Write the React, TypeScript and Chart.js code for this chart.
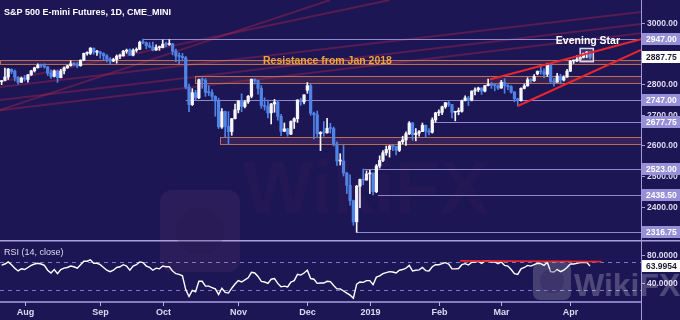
import React, { useEffect, useRef } from 'react';
import { Chart, registerables } from 'chart.js';

Chart.register(...registerables);

const BG = '#1d1654';
const UP = '#f6f6fc';
const DOWN = '#5083e6';
const LAVENDER = '#8f87cf';
const TAG_BG = '#978fd8';
const AXIS_TEXT = '#dedaf2';
const FONT = '"Liberation Sans", Arial, sans-serif';

// ---------- sessions (trading days) ----------
const sessionMonths = ['2018-07', '2018-08', '2018-09', '2018-10', '2018-11', '2018-12', '2019-01', '2019-02', '2019-03', '2019-04'];
const sessionDays = [
  [23, 24, 25, 26, 27, 30, 31],
  [1, 2, 3, 6, 7, 8, 9, 10, 13, 14, 15, 16, 17, 20, 21, 22, 23, 24, 27, 28, 29, 30, 31],
  [4, 5, 6, 7, 10, 11, 12, 13, 14, 17, 18, 19, 20, 21, 24, 25, 26, 27, 28],
  [1, 2, 3, 4, 5, 8, 9, 10, 11, 12, 15, 16, 17, 18, 19, 22, 23, 24, 25, 26, 29, 30, 31],
  [1, 2, 5, 6, 7, 8, 9, 12, 13, 14, 15, 16, 19, 20, 21, 23, 26, 27, 28, 29, 30],
  [3, 4, 6, 7, 10, 11, 12, 13, 14, 17, 18, 19, 20, 21, 24, 26, 27, 28, 31],
  [2, 3, 4, 7, 8, 9, 10, 11, 14, 15, 16, 17, 18, 22, 23, 24, 25, 28, 29, 30, 31],
  [1, 4, 5, 6, 7, 8, 11, 12, 13, 14, 15, 19, 20, 21, 22, 25, 26, 27, 28],
  [1, 4, 5, 6, 7, 8, 11, 12, 13, 14, 15, 18, 19, 20, 21, 22, 25, 26, 27, 28, 29],
  [1, 2, 3, 4, 5, 8, 9],
];
const monthTickText = ['', 'Aug', 'Sep', 'Oct', 'Nov', 'Dec', '2019', 'Feb', 'Mar', 'Apr'];
const futureSlots = 15;

// ---------- OHLC ----------
const opens = [
  2808, 2812, 2823, 2848, 2842, 2822, 2806,
  2820, 2815, 2830, 2843, 2853, 2861, 2860, 2856, 2836, 2825, 2843, 2821, 2843, 2853, 2860, 2866, 2865, 2860, 2878, 2900, 2900, 2917, 2904,
  2905, 2900, 2892, 2881, 2875, 2880, 2891, 2892, 2907, 2912, 2894, 2910, 2913, 2936, 2935, 2925, 2921, 2911, 2919,
  2919, 2930, 2929, 2931, 2907, 2891, 2890, 2886, 2790, 2733, 2772, 2755, 2814, 2813, 2773, 2772, 2760, 2745, 2660, 2710, 2662, 2645, 2687,
  2716, 2745, 2727, 2742, 2760, 2815, 2811, 2786, 2730, 2727, 2706, 2735, 2741, 2695, 2646, 2654, 2637, 2678, 2687, 2748, 2742,
  2780, 2795, 2705, 2700, 2638, 2642, 2641, 2656, 2655, 2605, 2549, 2549, 2510, 2470, 2420, 2351, 2467, 2489, 2487,
  2507, 2510, 2449, 2533, 2551, 2576, 2587, 2598, 2597, 2584, 2612, 2618, 2638, 2673, 2635, 2640, 2645, 2666, 2646, 2643, 2683,
  2706, 2708, 2726, 2739, 2733, 2708, 2710, 2711, 2746, 2755, 2748, 2777, 2781, 2787, 2777, 2795, 2799, 2796, 2795,
  2787, 2806, 2795, 2792, 2774, 2752, 2746, 2786, 2794, 2814, 2811, 2833, 2841, 2840, 2832, 2862, 2808, 2806, 2826, 2813, 2823,
  2842, 2875, 2875, 2881, 2887, 2900, 2904,
];
const highs = [
  2812, 2852, 2851, 2850, 2846, 2824, 2823,
  2828, 2832, 2845, 2855, 2866, 2865, 2866, 2858, 2846, 2846, 2844, 2848, 2856, 2862, 2876, 2870, 2871, 2879, 2901, 2905, 2919, 2918, 2910,
  2907, 2902, 2896, 2886, 2884, 2895, 2898, 2910, 2914, 2915, 2915, 2918, 2940, 2947, 2937, 2935, 2937, 2928, 2924,
  2944, 2937, 2945, 2933, 2914, 2902, 2900, 2890, 2800, 2785, 2780, 2816, 2820, 2818, 2795, 2782, 2762, 2754, 2720, 2712, 2710, 2688, 2735,
  2746, 2768, 2746, 2763, 2817, 2818, 2813, 2795, 2755, 2748, 2737, 2750, 2747, 2701, 2673, 2656, 2680, 2690, 2749, 2754, 2765,
  2805, 2800, 2709, 2712, 2645, 2678, 2688, 2672, 2660, 2612, 2573, 2600, 2512, 2504, 2422, 2470, 2490, 2523, 2517,
  2519, 2510, 2538, 2566, 2583, 2598, 2600, 2601, 2598, 2613, 2630, 2644, 2677.75, 2675, 2655, 2648, 2673, 2666, 2655, 2690, 2708,
  2716, 2728, 2740, 2744, 2734, 2711, 2722, 2748, 2762, 2760, 2778, 2788, 2790, 2788, 2796, 2816, 2806, 2800, 2798,
  2812, 2818, 2798, 2795, 2776, 2754, 2788, 2800, 2821, 2818, 2831, 2843, 2860, 2850, 2868, 2865, 2819, 2835, 2832, 2827, 2848,
  2877, 2879, 2893, 2890, 2901, 2906, 2906,
];
const lows = [
  2798, 2810, 2815, 2834, 2810, 2800, 2805,
  2810, 2806, 2828, 2839, 2852, 2854, 2852, 2828, 2818, 2823, 2805, 2820, 2833, 2851, 2858, 2860, 2853, 2858, 2876, 2894, 2896, 2897, 2893,
  2884, 2878, 2872, 2864, 2873, 2868, 2883, 2891, 2900, 2893, 2892, 2904, 2912, 2932, 2915, 2918, 2908, 2910, 2910,
  2918, 2922, 2926, 2895, 2873, 2866, 2876, 2784, 2710, 2730, 2748, 2752, 2786, 2760, 2762, 2747, 2695, 2655, 2655, 2628, 2603, 2633, 2686,
  2706, 2710, 2722, 2737, 2755, 2800, 2767, 2721, 2715, 2690, 2670, 2708, 2682, 2632, 2645, 2630, 2635, 2655, 2675, 2731, 2735,
  2770, 2698, 2621, 2626, 2583, 2630, 2640, 2640, 2598, 2535, 2536, 2500, 2443, 2405, 2340, 2316.75, 2397, 2472, 2487,
  2443, 2438.5, 2446, 2526, 2547, 2568, 2562, 2583, 2569, 2580, 2605, 2600, 2635, 2617, 2615, 2630, 2645, 2627, 2634, 2640, 2676,
  2697, 2700, 2721, 2727, 2690, 2680, 2700, 2708, 2745, 2730, 2745, 2765, 2775, 2766, 2774, 2794, 2786, 2778, 2782,
  2786, 2770, 2782, 2770, 2742, 2728.5, 2744, 2784, 2793, 2805, 2809, 2830, 2832, 2820, 2825, 2801, 2793, 2806, 2800, 2810, 2822,
  2841, 2867, 2873, 2876, 2885, 2886, 2882,
];
const closes = [
  2810, 2823, 2849, 2840, 2822, 2806, 2819,
  2816, 2830, 2843, 2853, 2861, 2860, 2856, 2836, 2825, 2843, 2821, 2843, 2853, 2860, 2866, 2865, 2860, 2878, 2900, 2900, 2917, 2904, 2905,
  2900, 2892, 2881, 2875, 2880, 2891, 2892, 2907, 2908, 2894, 2910, 2913, 2936, 2935, 2925, 2921, 2911, 2919, 2919,
  2930, 2929, 2931, 2907, 2891, 2890, 2886, 2790, 2733, 2772, 2755, 2814, 2813, 2773, 2772, 2760, 2745, 2660, 2710, 2662, 2645, 2687, 2716,
  2745, 2727, 2742, 2760, 2815, 2811, 2786, 2730, 2727, 2706, 2735, 2741, 2695, 2646, 2654, 2637, 2678, 2687, 2748, 2742, 2765,
  2795, 2705, 2700, 2638, 2642, 2641, 2656, 2655, 2605, 2549, 2549, 2510, 2470, 2420, 2351, 2467, 2489, 2487, 2507,
  2510, 2449, 2533, 2551, 2576, 2587, 2598, 2597, 2584, 2612, 2618, 2638, 2673, 2635, 2640, 2645, 2666, 2646, 2643, 2683, 2706,
  2708, 2726, 2739, 2733, 2708, 2710, 2711, 2746, 2755, 2748, 2777, 2781, 2787, 2777, 2795, 2799, 2796, 2795, 2787,
  2806, 2795, 2792, 2774, 2752, 2746, 2786, 2794, 2814, 2811, 2825, 2841, 2840, 2832, 2862, 2808, 2806, 2826, 2813, 2823, 2842,
  2875, 2875, 2881, 2887, 2900, 2904, 2887.75,
];
const rsiValues = [
  65.5, 67, 70, 66, 61, 57, 60,
  59, 62, 65, 67, 68, 67, 65, 58, 54, 59, 53, 59, 61, 62, 64, 63, 61, 66, 71, 71, 73, 68, 68,
  66, 62, 58, 56, 58, 62, 63, 66, 64, 58, 64, 66, 70, 69, 64, 62, 58, 61, 60,
  64, 63, 63, 57, 53, 52, 50, 30, 20, 29, 27, 42, 42, 35, 35, 33, 31, 23, 32, 26, 25, 32, 38,
  43, 41, 44, 47, 55, 54, 49, 42, 41, 39, 45, 46, 39, 34, 35, 34, 41, 43, 52, 51, 54,
  58, 46, 45, 39, 39.5, 39.5, 42, 41.5, 36, 31, 31, 28, 25, 22, 17.5, 38, 41, 40.5, 43,
  43, 37, 48, 50, 53, 54.5, 56, 55.5, 54, 58, 59, 61, 65, 57, 58, 58.5, 62, 57.5, 57, 63, 66,
  66, 67.5, 69, 67, 60, 60, 60.5, 66, 67.5, 65.5, 69.5, 70, 71, 68, 71, 71.5, 70, 70, 67.5,
  70, 65, 64, 59, 53, 52, 60, 62, 65, 64, 66, 68, 67.5, 65, 69.5, 56, 55.5, 59, 56, 58, 62,
  67, 67, 68, 69, 69, 69.5, 64,
];

// ---------- axes / annotations ----------
const priceMin = 2291.7;
const priceMax = 3074;
const rsiMin = 12.1;
const rsiMax = 101.7;
const priceAxisTicks = [3000, 2800, 2700, 2600, 2500, 2400];
const rsiAxisTicks = [80, 40];
const rsiBands = [70, 30];
const levelPrices = [2947, 2747, 2677.75, 2523, 2438.5, 2316.75];
const levelStarts = [43, 56, 131, 110, 114.5, 108];
const lastPrice = 2887.75;
const lastRsi = 63.9954;
const zoneStarts = [-0.5, 58.8, 66.4];
const zoneLows = [2865, 2805, 2605];
const zoneHighs = [2879, 2825, 2627];
const wedgeUpper = [148.5, 2815, 194.5, 2946];
const wedgeLower = [157, 2728.5, 194.5, 2911];
const channelLines = [
  [-0.5, 2715, 194.5, 2966],
  [-0.5, 2748, 194.5, 2996],
  [-0.5, 2790, 194.5, 3035],
  [-0.5, 2807, 118.1, 3074],
  [-0.5, 2715, 99.9, 3074],
];
const rsiResistance = [139.5, 71.5, 182.5, 70.5];
const eveningStarBox = [176, 180, 2873, 2916];

// ---------- categories ----------
const categories: string[] = [];
const monthStartIdx: number[] = [];
const monthStartText: string[] = [];
sessionMonths.forEach((m, k) => {
  sessionDays[k].forEach((d, j) => {
    if (j === 0 && monthTickText[k]) {
      monthStartIdx.push(categories.length);
      monthStartText.push(monthTickText[k]);
    }
    categories.push(`${m}-${String(d).padStart(2, '0')}`);
  });
});
for (let i = 1; i <= futureSlots; i++) categories.push(`+${i}`);

// ---------- helpers ----------
function seg(ctx: any, xs: any, ys: any, l: number[]) {
  ctx.beginPath();
  ctx.moveTo(xs.getPixelForValue(l[0]), ys.getPixelForValue(l[1]));
  ctx.lineTo(xs.getPixelForValue(l[2]), ys.getPixelForValue(l[3]));
  ctx.stroke();
}

function tag(ctx: any, axisX: number, py: number, text: string, bg: string, fg: string, w: number) {
  ctx.fillStyle = bg;
  ctx.fillRect(axisX + 1, Math.round(py) - 6, w - axisX - 1, 12);
  ctx.fillStyle = fg;
  ctx.font = `bold 8.5px ${FONT}`;
  ctx.textAlign = 'left';
  ctx.textBaseline = 'middle';
  ctx.fillText(text, axisX + 5, Math.round(py) + 0.5);
}

function rrect(ctx: any, x: number, y: number, w: number, h: number, r: number) {
  ctx.beginPath();
  ctx.moveTo(x + r, y);
  ctx.arcTo(x + w, y, x + w, y + h, r);
  ctx.arcTo(x + w, y + h, x, y + h, r);
  ctx.arcTo(x, y + h, x, y, r);
  ctx.arcTo(x, y, x + w, y, r);
  ctx.closePath();
}

function drawWatermarks(ctx: any, offY: number) {
  ctx.save();
  ctx.translate(0, -offY);
  // large faint mark
  rrect(ctx, 160, 190, 80, 82, 12);
  ctx.fillStyle = 'rgba(200,120,160,0.08)';
  ctx.fill();
  ctx.beginPath();
  ctx.arc(200, 231, 24, 0, Math.PI * 2);
  ctx.fillStyle = 'rgba(40,20,70,0.18)';
  ctx.fill();
  ctx.font = `bold 74px ${FONT}`;
  ctx.fillStyle = 'rgba(190,70,110,0.045)';
  ctx.textAlign = 'left';
  ctx.textBaseline = 'alphabetic';
  ctx.fillText('WikiFX', 243, 213);
  // small mark bottom-right
  rrect(ctx, 533, 262, 38, 38, 7);
  ctx.fillStyle = 'rgba(255,255,255,0.18)';
  ctx.fill();
  ctx.beginPath();
  ctx.arc(552, 281, 12, 0, Math.PI * 2);
  ctx.fillStyle = 'rgba(40,25,90,0.3)';
  ctx.fill();
  ctx.font = `bold 32px ${FONT}`;
  ctx.fillStyle = 'rgba(255,255,255,0.22)';
  ctx.fillText('WikiFX', 574, 296);
  ctx.restore();
}

const bgPlugin = {
  id: 'bg',
  beforeDraw(chart: any) {
    const { ctx } = chart;
    ctx.save();
    ctx.fillStyle = BG;
    ctx.fillRect(0, 0, chart.width, chart.height);
    ctx.restore();
  },
};

const mainOverlay = {
  id: 'mainOverlay',
  beforeDatasetsDraw(chart: any) {
    const { ctx, chartArea: a } = chart;
    const xs = chart.scales.x;
    const ys = chart.scales.y;
    ctx.save();
    ctx.beginPath();
    ctx.rect(a.left, a.top, a.right - a.left, a.bottom - a.top);
    ctx.clip();
    // faint channel lines
    ctx.strokeStyle = 'rgba(200,40,80,0.34)';
    ctx.lineWidth = 2;
    channelLines.forEach((l) => seg(ctx, xs, ys, l));
    // zones
    zoneLows.forEach((lo, k) => {
      const x0 = Math.round(xs.getPixelForValue(zoneStarts[k]));
      const y1 = Math.round(ys.getPixelForValue(zoneHighs[k]));
      const y2 = Math.round(ys.getPixelForValue(lo));
      ctx.fillStyle = 'rgba(160,80,100,0.2)';
      ctx.fillRect(x0, y1, a.right - x0, y2 - y1);
      ctx.strokeStyle = 'rgba(205,125,90,0.85)';
      ctx.lineWidth = 1;
      ctx.strokeRect(x0 + 0.5, y1 + 0.5, a.right - x0 + 2, y2 - y1);
    });
    // horizontal rays
    ctx.strokeStyle = LAVENDER;
    ctx.lineWidth = 1;
    levelPrices.forEach((p, k) => {
      const py = Math.round(ys.getPixelForValue(p)) + 0.5;
      ctx.beginPath();
      ctx.moveTo(xs.getPixelForValue(levelStarts[k]), py);
      ctx.lineTo(a.right, py);
      ctx.stroke();
    });
    ctx.restore();
  },
  afterDatasetsDraw(chart: any) {
    const { ctx, chartArea: a } = chart;
    const xs = chart.scales.x;
    const ys = chart.scales.y;
    ctx.save();
    ctx.beginPath();
    ctx.rect(a.left, a.top, a.right - a.left, a.bottom - a.top);
    ctx.clip();
    // evening star box
    const bx0 = xs.getPixelForValue(eveningStarBox[0]);
    const bx1 = xs.getPixelForValue(eveningStarBox[1]);
    const by0 = ys.getPixelForValue(eveningStarBox[3]);
    const by1 = ys.getPixelForValue(eveningStarBox[2]);
    ctx.fillStyle = 'rgba(255,255,255,0.13)';
    ctx.fillRect(bx0, by0, bx1 - bx0, by1 - by0);
    ctx.strokeStyle = '#d9d5f2';
    ctx.lineWidth = 1.5;
    ctx.strokeRect(bx0, by0, bx1 - bx0, by1 - by0);
    // wedge
    ctx.strokeStyle = '#e8262e';
    ctx.lineWidth = 2;
    seg(ctx, xs, ys, wedgeUpper);
    seg(ctx, xs, ys, wedgeLower);
    // texts
    ctx.textAlign = 'left';
    ctx.textBaseline = 'middle';
    ctx.font = `bold 10.5px ${FONT}`;
    ctx.fillStyle = '#f2a33a';
    ctx.fillText('Resistance from Jan 2018', xs.getPixelForValue(79.5), ys.getPixelForValue(2874.5));
    ctx.fillStyle = '#ffffff';
    ctx.fillText('Evening Star', xs.getPixelForValue(168.6), ys.getPixelForValue(2940));
    ctx.restore();
  },
  afterDraw(chart: any) {
    const { ctx, chartArea: a } = chart;
    const ys = chart.scales.y;
    const R = a.right;
    ctx.save();
    ctx.strokeStyle = '#a39bdc';
    ctx.lineWidth = 1;
    ctx.beginPath();
    ctx.moveTo(R + 0.5, 0);
    ctx.lineTo(R + 0.5, chart.height);
    ctx.stroke();
    ctx.font = `bold 8.5px ${FONT}`;
    ctx.textAlign = 'left';
    ctx.textBaseline = 'middle';
    priceAxisTicks.forEach((v) => {
      const py = Math.round(ys.getPixelForValue(v)) + 0.5;
      ctx.beginPath();
      ctx.moveTo(R, py);
      ctx.lineTo(R + 4, py);
      ctx.stroke();
      ctx.fillStyle = AXIS_TEXT;
      ctx.fillText(v.toFixed(2), R + 6, py);
    });
    levelPrices.forEach((p) => tag(ctx, R, ys.getPixelForValue(p), p.toFixed(2), TAG_BG, '#ffffff', chart.width));
    tag(ctx, R, ys.getPixelForValue(lastPrice), lastPrice.toFixed(2), '#ffffff', '#1a1a2e', chart.width);
    // title
    ctx.font = `bold 9px ${FONT}`;
    ctx.fillStyle = '#ffffff';
    ctx.textBaseline = 'middle';
    ctx.fillText('S&P 500 E-mini Futures, 1D, CME_MINI', 4, 12.5);
    ctx.restore();
    drawWatermarks(ctx, 0);
  },
};

const rsiOverlay = {
  id: 'rsiOverlay',
  beforeDatasetsDraw(chart: any) {
    const { ctx, chartArea: a } = chart;
    const ys = chart.scales.y;
    ctx.save();
    ctx.strokeStyle = '#8078bd';
    ctx.lineWidth = 1;
    ctx.setLineDash([4, 4]);
    rsiBands.forEach((v) => {
      const py = Math.round(ys.getPixelForValue(v)) + 0.5;
      ctx.beginPath();
      ctx.moveTo(a.left, py);
      ctx.lineTo(a.right, py);
      ctx.stroke();
    });
    ctx.restore();
  },
  afterDatasetsDraw(chart: any) {
    const { ctx } = chart;
    ctx.save();
    ctx.strokeStyle = '#e8262e';
    ctx.lineWidth = 1.8;
    seg(ctx, chart.scales.x, chart.scales.y, rsiResistance);
    ctx.restore();
  },
  afterDraw(chart: any) {
    const { ctx, chartArea: a } = chart;
    const xs = chart.scales.x;
    const ys = chart.scales.y;
    const R = a.right;
    ctx.save();
    // panel borders
    ctx.strokeStyle = '#a8a1de';
    ctx.lineWidth = 1.5;
    ctx.beginPath();
    ctx.moveTo(0, 0.75);
    ctx.lineTo(chart.width, 0.75);
    ctx.moveTo(0, a.bottom);
    ctx.lineTo(R, a.bottom);
    ctx.stroke();
    ctx.strokeStyle = '#a39bdc';
    ctx.lineWidth = 1;
    ctx.beginPath();
    ctx.moveTo(R + 0.5, 0);
    ctx.lineTo(R + 0.5, chart.height);
    ctx.stroke();
    // rsi axis
    ctx.font = `bold 8.5px ${FONT}`;
    ctx.textAlign = 'left';
    ctx.textBaseline = 'middle';
    rsiAxisTicks.forEach((v) => {
      const py = Math.round(ys.getPixelForValue(v)) + 0.5;
      ctx.beginPath();
      ctx.moveTo(R, py);
      ctx.lineTo(R + 4, py);
      ctx.stroke();
      ctx.fillStyle = AXIS_TEXT;
      ctx.fillText(v.toFixed(4), R + 6, py);
    });
    tag(ctx, R, ys.getPixelForValue(lastRsi), lastRsi.toFixed(4), '#ffffff', '#1a1a2e', chart.width);
    // month ticks
    ctx.strokeStyle = '#b6b0e4';
    ctx.textAlign = 'center';
    ctx.fillStyle = AXIS_TEXT;
    ctx.font = `bold 9px ${FONT}`;
    monthStartIdx.forEach((idx, k) => {
      const px = Math.round(xs.getPixelForValue(idx)) + 0.5;
      ctx.beginPath();
      ctx.moveTo(px, a.bottom);
      ctx.lineTo(px, a.bottom + 4);
      ctx.stroke();
      ctx.fillText(monthStartText[k], px, a.bottom + 11);
    });
    // label
    ctx.textAlign = 'left';
    ctx.font = `9px ${FONT}`;
    ctx.fillStyle = AXIS_TEXT;
    ctx.fillText('RSI (14, close)', 4, 13);
    ctx.restore();
    drawWatermarks(ctx, 240);
  },
};

export default function App() {
  const mainRef = useRef<HTMLCanvasElement>(null);
  const rsiRef = useRef<HTMLCanvasElement>(null);

  useEffect(() => {
    document.body.style.margin = '0';
    document.body.style.background = BG;
    const candleColor = (c: any) => (closes[c.dataIndex] >= opens[c.dataIndex] ? UP : DOWN);
    const main = new Chart(mainRef.current as HTMLCanvasElement, {
      type: 'bar',
      data: {
        labels: categories,
        datasets: [
          {
            data: closes.map((c, i) => [Math.min(opens[i], c), Math.max(opens[i], c)]),
            backgroundColor: candleColor,
            barThickness: 2.6,
            minBarLength: 1,
            grouped: false,
            borderWidth: 0,
            order: 0,
          },
          {
            data: highs.map((h, i) => [lows[i], h]),
            backgroundColor: candleColor,
            barThickness: 1,
            grouped: false,
            borderWidth: 0,
            order: 1,
          },
        ],
      } as any,
      options: {
        animation: false,
        responsive: false,
        maintainAspectRatio: false,
        events: [],
        layout: { padding: { left: 0, top: 0, bottom: 0, right: 39 } },
        plugins: { legend: { display: false }, tooltip: { enabled: false } },
        scales: {
          x: { type: 'category', display: false, offset: true },
          y: { type: 'linear', display: false, min: priceMin, max: priceMax },
        },
      } as any,
      plugins: [bgPlugin, mainOverlay],
    });
    const rsi = new Chart(rsiRef.current as HTMLCanvasElement, {
      type: 'line',
      data: {
        labels: categories,
        datasets: [
          {
            data: rsiValues,
            borderColor: '#ffffff',
            borderWidth: 1.4,
            pointRadius: 0,
            fill: false,
            tension: 0,
          },
        ],
      },
      options: {
        animation: false,
        responsive: false,
        maintainAspectRatio: false,
        events: [],
        layout: { padding: { left: 0, top: 0, bottom: 18, right: 39 } },
        plugins: { legend: { display: false }, tooltip: { enabled: false } },
        scales: {
          x: { type: 'category', display: false, offset: true },
          y: { type: 'linear', display: false, min: rsiMin, max: rsiMax },
        },
      } as any,
      plugins: [bgPlugin, rsiOverlay],
    });
    return () => {
      main.destroy();
      rsi.destroy();
    };
  }, []);

  return (
    <div style={{ width: 680, height: 320, background: BG, overflow: 'hidden' }}>
      <canvas ref={mainRef} width={680} height={240} style={{ display: 'block', width: 680, height: 240 }} />
      <canvas ref={rsiRef} width={680} height={80} style={{ display: 'block', width: 680, height: 80 }} />
    </div>
  );
}
